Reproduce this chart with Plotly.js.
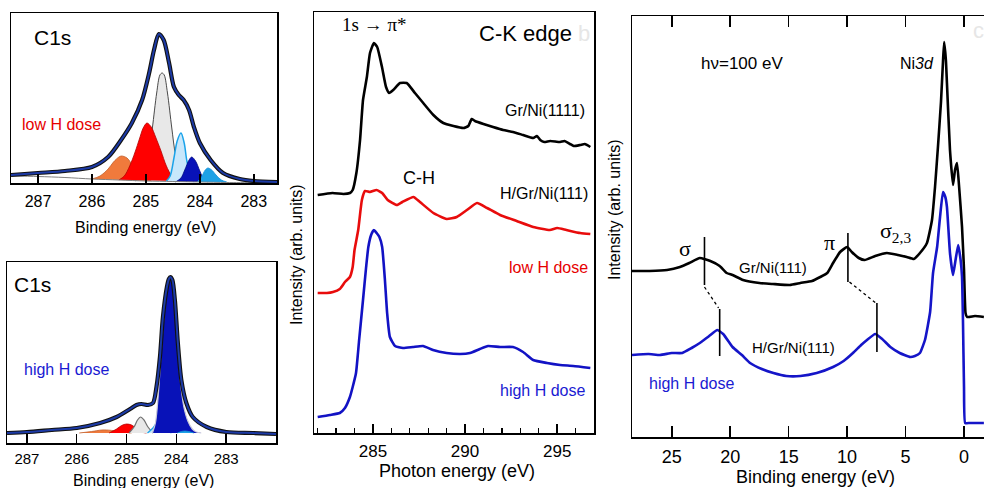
<!DOCTYPE html>
<html><head><meta charset="utf-8">
<script src="https://cdn.plot.ly/plotly-3.0.1.min.js"></script>
<style>html,body{margin:0;padding:0;background:#fff;}#chart{width:984px;height:488px;}</style>
</head><body><div id="chart"></div>
<script>
// ---------- Panel 1: C1s, low H dose (binding energy eV, intensity arb.) ----------
const p1TotalX = [287.5,287.0,286.5,286.0,285.7,285.46,285.26,285.07,284.94,284.85,284.76,284.67,284.57,284.48,284.39,284.3,284.2,284.11,284.0,283.8,283.57,283.26,283.0,282.57];
const p1TotalY = [8,10,12,16,26,43,60,83,110,133,149,143,120,96,88,83,73,56,40,23,10,4,2,1];
const p1BgX = [287.5,287.0,286.5,286.0,285.5,285.0,284.5,284.0,283.5,283.0,282.57];
const p1BgY = [7,6.5,5.5,4,3,2,1.5,1,0.5,0.3,0.2];
const p1GrayX = [285.2,285.05,284.95,284.88,284.8,284.74,284.7,284.66,284.6,284.52,284.45,284.35,284.2];
const p1GrayY = [2,10,28,55,90,108,110,108,90,55,28,10,1];
const p1OrangeX = [286.0,285.85,285.7,285.6,285.5,285.45,285.35,285.25,285.15,285.0,284.9];
const p1OrangeY = [4,7,14,21,26,27,25,18,11,5,2];
const p1RedX = [285.5,285.4,285.3,285.2,285.12,285.05,284.98,284.9,284.82,284.72,284.62,284.52,284.42];
const p1RedY = [3,7,17,31,44,55,60,56,46,32,17,7,2];
const p1LightBlueX = [284.62,284.55,284.48,284.42,284.35,284.29,284.24,284.17,284.1];
const p1LightBlueY = [2,7,25,42,50,40,22,8,1];
const p1DarkBlueX = [284.45,284.35,284.28,284.2,284.15,284.08,284.0,283.93,283.85];
const p1DarkBlueY = [1,5,13,23,26,22,12,4,1];
const p1SkyX = [284.05,283.97,283.9,283.85,283.78,283.7,283.6,283.5];
const p1SkyY = [1,6,13,15,13,8,3,1];
const p1Ticks = [287,286,285,284,283];

// ---------- Panel 2: C1s, high H dose ----------
const p2TotalX = [287.4,287.0,286.5,286.0,285.53,285.2,284.93,284.8,284.7,284.57,284.47,284.4,284.33,284.27,284.19,284.15,284.12,284.08,284.03,283.97,283.9,283.8,283.67,283.39,283.0,282.46,282.0];
const p2TotalY = [10,11,13,15,20,26,34,38,39,38,40,56,86,126,156,164,166,163,143,100,63,40,26,16,11,10,9];
const p2OrangeX = [285.95,285.7,285.5,285.4,285.2,285.0,284.9];
const p2OrangeY = [10,11.5,13,13,12,10.5,10];
const p2RedX = [285.35,285.2,285.1,285.0,284.9,284.8,284.7,284.6];
const p2RedY = [10,14,17.5,19,18,14.5,11,10];
const p2GrayX = [284.95,284.85,284.78,284.72,284.65,284.57,284.47];
const p2GrayY = [10,16,23,26,23,16,10];
const p2LightBlueX = [284.58,284.47,284.4,284.35,284.28,284.2,284.1];
const p2LightBlueY = [10,15,20,22,19,13,10];
const p2DarkBlueX = [284.48,284.42,284.36,284.3,284.24,284.19,284.15,284.12,284.08,284.04,283.98,283.92,283.85,283.77,283.68,283.6,283.5];
const p2DarkBlueY = [10,20,50,95,132,152,161,163,159,140,100,62,36,22,14,11,10];
const p2SkyX = [283.98,283.9,283.83,283.75,283.65];
const p2SkyY = [10,11.5,12,11.5,10];
const p2Ticks = [287,286,285,284,283];

// ---------- Panel 3: C-K edge NEXAFS (photon energy eV) ----------
const p3BlackX = [282.0,282.8,283.4,283.75,283.9,284.1,284.3,284.46,284.67,284.84,285.05,285.23,285.49,285.71,285.88,286.1,286.47,286.83,287.28,287.73,288.28,288.82,289.37,289.91,290.18,290.36,290.54,291.0,291.52,292.07,292.6,293.15,293.7,293.9,294.08,294.3,294.62,295.16,295.4,295.7,295.9,296.25,296.5,296.8];
const p3BlackY = [238,240,239,240,243,260,293,333,356,380,390,386,366,346,340,343,350,350,340,330,318,310,307,305,307,314,312,309,306,303,301,298,295,297,293,291,292,291,292,289,287,288,289,286];
const p3RedX = [282.0,282.5,282.83,283.2,283.48,283.75,283.9,284.0,284.2,284.4,284.57,284.84,285.2,285.5,285.8,286.3,286.6,287.2,287.55,288.28,289.0,289.55,290.1,290.65,291.2,291.9,292.8,293.7,294.6,295.0,295.5,296.25,296.8];
const p3RedY = [140,140,141,144,151,156,166,183,203,233,242,241,243,240,233,228,231,236,231,220,214,216,223,230,225,218,212,206,203,205,203,200,199];
const p3BlueX = [282.0,282.66,283.2,283.48,283.75,283.9,284.08,284.25,284.46,284.63,284.75,284.9,285.05,285.2,285.35,285.5,285.65,285.77,285.92,286.2,286.63,287.17,287.72,288.26,289.0,289.73,290.27,290.8,291.25,291.9,292.6,293.15,293.7,294.45,295.16,295.87,296.8];
const p3BlueY = [16,18,20,25,36,46,60,93,133,166,186,198,203,200,196,186,153,120,96,87,85,86,87,83,80,79,80,84,87,86,86,81,73,70,68,67,65];
const p3Ticks = [285,290,295];

// ---------- Panel 4: valence band, hv=100 eV (binding energy eV) ----------
const p4BlackX = [28.4,26.9,25.4,24.3,23.5,22.6,21.7,20.9,20.3,19.8,18.9,17.5,16.35,14.9,14.0,13.0,12.3,11.7,11.2,10.6,10.0,9.6,9.0,8.5,7.6,6.6,5.65,4.9,4.3,3.77,3.17,2.74,2.48,2.23,1.97,1.8,1.7,1.55,1.46,1.2,0.94,0.77,0.6,0.43,0.17,0.0,-0.13,-0.26,-0.94,-1.7];
const p4BlackY = [166,166,167,170,174,179,176,171,164,162,157,154,153,152,154,156,160,164,174,185,190,185,179,177,181,184,182,180,178,184,194,217,250,290,335,375,395,377,354,287,252,267,274,252,210,167,124,120,121,120];
const p4BlueX = [28.4,27,26,25,24.1,23.3,22.6,21.8,21.1,20.6,19.8,19.0,18.3,17.3,16.3,15.2,14,12.6,11.2,10.3,9.5,8.8,8.3,7.6,7.0,6.3,5.5,4.6,4.2,3.77,3.34,2.9,2.65,2.3,2.05,1.8,1.6,1.46,1.2,0.94,0.75,0.5,0.3,0.17,0.09,0.0,-0.1,-0.5,-1.7];
const p4BlueY = [82,83,82,84,84,89,94,101,107,103,90,82,74,68,64,61,61,64,70,76,84,92,97,103,98,90,84,80,81,84,97,125,164,190,220,245,240,230,184,162,175,192,178,160,117,50,14,14,14];
// peak markers: [x0, y0, x1, y1]
const p4SigmaBlack = [22.2,200,22.2,152];
const p4PiBlack = [9.93,204,9.93,155];
const p4SigmaBlue = [20.9,128,20.9,81];
const p4PiBlue = [7.45,134,7.45,85];
const p4SigmaShift = [22.2,150,21.0,129];
const p4PiShift = [9.8,155,7.55,134];
const p4Ticks = [25,20,15,10,5,0];

// ---------- layout helpers ----------
const W = 984, H = 488;
const fx = p => p / W;
const fy = p => 1 - p / H;
const SANS = 'Liberation Sans, Arial, sans-serif';
const SERIF = 'Liberation Serif, Times New Roman, serif';

function line(x, y, xa, ya, color, width, smooth) {
  return {x, y, xaxis: xa, yaxis: ya, mode: 'lines', hoverinfo: 'skip',
    line: {color, width, shape: 'spline', smoothing: smooth}};
}
function peak(x, y, xa, ya, fill, edge, w) {
  return {x, y, xaxis: xa, yaxis: ya, mode: 'lines', fill: 'toself', fillcolor: fill, hoverinfo: 'skip',
    line: {color: edge, width: w, shape: 'spline', smoothing: 0.9}};
}
function seg(s, xa, ya, dash) {
  return {x: [s[0], s[2]], y: [s[1], s[3]], xaxis: xa, yaxis: ya, mode: 'lines', hoverinfo: 'skip',
    line: {color: '#000', width: dash ? 1.3 : 1.6, dash: dash || 'solid'}};
}

const traces = [
  // panel 1
  peak(p1GrayX, p1GrayY, 'x', 'y', '#e8e8e8', '#4a4a4a', 1),
  peak(p1OrangeX, p1OrangeY, 'x', 'y', '#f07a3c', '#c0602c', 0.8),
  peak(p1RedX, p1RedY, 'x', 'y', '#ff0000', '#b40000', 0.8),
  peak(p1LightBlueX, p1LightBlueY, 'x', 'y', '#c8e7fb', '#1aa3ea', 1.5),
  peak(p1DarkBlueX, p1DarkBlueY, 'x', 'y', '#0812b8', '#000a80', 0.8),
  peak(p1SkyX, p1SkyY, 'x', 'y', '#1ea2e6', '#1590d8', 0.8),
  line(p1BgX, p1BgY, 'x', 'y', '#808080', 1, 0.8),
  line(p1TotalX, p1TotalY, 'x', 'y', '#111', 4.2, 0.8),
  line(p1TotalX, p1TotalY, 'x', 'y', '#1c3aa6', 2, 0.8),
  // panel 2
  peak(p2OrangeX, p2OrangeY, 'x2', 'y2', '#f07a3c', '#c0602c', 0.8),
  peak(p2RedX, p2RedY, 'x2', 'y2', '#ff0000', '#b40000', 0.8),
  peak(p2GrayX, p2GrayY, 'x2', 'y2', '#e8e8e8', '#707070', 1.2),
  peak(p2LightBlueX, p2LightBlueY, 'x2', 'y2', '#c8e7fb', '#1aa3ea', 1.2),
  peak(p2DarkBlueX, p2DarkBlueY, 'x2', 'y2', '#0812b8', '#c8c8d8', 1.2),
  peak(p2SkyX, p2SkyY, 'x2', 'y2', '#1ea2e6', '#1590d8', 0.8),
  line(p2TotalX, p2TotalY, 'x2', 'y2', '#111', 4.2, 0.8),
  line(p2TotalX, p2TotalY, 'x2', 'y2', '#1c3aa6', 2, 0.8),
  // panel 3
  line(p3BlackX, p3BlackY, 'x3', 'y3', '#000', 2.6, 0.45),
  line(p3RedX, p3RedY, 'x3', 'y3', '#e80c0c', 2.6, 0.45),
  line(p3BlueX, p3BlueY, 'x3', 'y3', '#1212c4', 2.6, 0.45),
  // panel 4
  line(p4BlackX, p4BlackY, 'x4', 'y4', '#000', 2.6, 0.4),
  line(p4BlueX, p4BlueY, 'x4', 'y4', '#1515c8', 2.6, 0.4),
  seg(p4SigmaBlack, 'x4', 'y4'),
  seg(p4PiBlack, 'x4', 'y4'),
  seg(p4SigmaBlue, 'x4', 'y4'),
  seg(p4PiBlue, 'x4', 'y4'),
  seg(p4SigmaShift, 'x4', 'y4', 'dot'),
  seg(p4PiShift, 'x4', 'y4', 'dot')
];

function xax(dom, range, ticks, size, ticklen, standoff, extra) {
  return Object.assign({domain: dom, range, tickvals: ticks, ticktext: ticks.map(String),
    ticks: 'inside', ticklen, tickwidth: 1.5, tickcolor: '#000', showline: true, linecolor: '#000', linewidth: 1.5,
    mirror: true, showgrid: false, zeroline: false, fixedrange: true, ticklabelstandoff: standoff,
    tickfont: {family: SANS, size, color: '#000'}}, extra || {});
}
function yax(dom, range, anchor, mirror) {
  return {domain: dom, range, anchor, showline: true, linecolor: '#000', linewidth: 1.5, mirror,
    ticks: '', showticklabels: false, showgrid: false, zeroline: false, fixedrange: true};
}

const layout = {
  width: W, height: H, margin: {l: 0, r: 0, t: 0, b: 0},
  paper_bgcolor: '#fff', plot_bgcolor: '#fff', showlegend: false,
  xaxis: xax([fx(11), fx(277)], [287.5, 282.57], p1Ticks, 16, 9, 3, {anchor: 'y'}),
  yaxis: yax([fy(183), fy(13)], [0, 170], 'x', true),
  xaxis2: xax([fx(7), fx(276)], [287.4, 282.0], p2Ticks, 15, 9, 1, {anchor: 'y2'}),
  yaxis2: yax([fy(443), fy(262)], [0, 181], 'x2', true),
  xaxis3: xax([fx(314), fx(594)], [281.8, 297.0], p3Ticks, 17, 9, 2,
    {anchor: 'y3', minor: {dtick: 1, tick0: 285, ticks: 'inside', ticklen: 5, tickwidth: 1.3, tickcolor: '#000', showgrid: false}}),
  yaxis3: yax([fy(433), fy(12)], [0, 421], 'x3', true),
  xaxis4: xax([fx(632), 1], [28.4, -1.71], p4Ticks, 18, 11, 3, {anchor: 'y4', mirror: 'allticks'}),
  yaxis4: yax([fy(437), fy(16)], [0, 421], 'x4', false),
  annotations: [
    // panel 1
    {xref: 'x', yref: 'y', x: 286.74, y: 146, text: 'C1s', font: {family: SANS, size: 21, color: '#000'}},
    {xref: 'x', yref: 'y', x: 286.57, y: 59, text: 'low H dose', font: {family: SANS, size: 16, color: '#e60000'}},
    {xref: 'paper', yref: 'paper', x: fx(145), y: fy(227), text: 'Binding energy (eV)', font: {family: SANS, size: 16, color: '#000'}},
    // panel 2
    {xref: 'x2', yref: 'y2', x: 286.88, y: 159, text: 'C1s', font: {family: SANS, size: 21, color: '#000'}},
    {xref: 'x2', yref: 'y2', x: 286.2, y: 74, text: 'high H dose', font: {family: SANS, size: 16, color: '#1a1ad2'}},
    {xref: 'paper', yref: 'paper', x: fx(143), y: fy(480), text: 'Binding energy (eV)', font: {family: SANS, size: 16, color: '#000'}},
    // panel 3
    {xref: 'x3', yref: 'y3', x: 285.1, y: 409, text: '1s \u2192 \u03c0*', font: {family: SERIF, size: 19, color: '#000'}},
    {xref: 'x3', yref: 'y3', x: 293.26, y: 400, text: 'C-K edge', font: {family: SANS, size: 22, color: '#000'}},
    {xref: 'x3', yref: 'y3', x: 296.45, y: 400, text: 'b', font: {family: SANS, size: 22, color: '#e6e6e6'}},
    {xref: 'x3', yref: 'y3', x: 296.6, y: 323, xanchor: 'right', text: 'Gr/Ni(1111)', font: {family: SANS, size: 16, color: '#000'}},
    {xref: 'x3', yref: 'y3', x: 287.5, y: 255, text: 'C-H', font: {family: SANS, size: 18, color: '#000'}},
    {xref: 'x3', yref: 'y3', x: 296.8, y: 240, xanchor: 'right', text: 'H/Gr/Ni(111)', font: {family: SANS, size: 16, color: '#000'}},
    {xref: 'x3', yref: 'y3', x: 296.8, y: 166, xanchor: 'right', text: 'low H dose', font: {family: SANS, size: 16, color: '#e60000'}},
    {xref: 'x3', yref: 'y3', x: 296.6, y: 43, xanchor: 'right', text: 'high H dose', font: {family: SANS, size: 16, color: '#1a1ad2'}},
    {xref: 'paper', yref: 'paper', x: fx(457), y: fy(471), text: 'Photon energy (eV)', font: {family: SANS, size: 18, color: '#000'}},
    {xref: 'paper', yref: 'paper', x: fx(296), y: fy(255), text: 'Intensity (arb. units)', textangle: -90, font: {family: SANS, size: 16, color: '#000'}},
    // panel 4
    {xref: 'x4', yref: 'y4', x: 19.0, y: 374, text: 'h\u03bd=100 eV', font: {family: SANS, size: 17, color: '#000'}},
    {xref: 'x4', yref: 'y4', x: 4.0, y: 374, text: 'Ni<i>3d</i>', font: {family: SANS, size: 16, color: '#000'}},
    {xref: 'x4', yref: 'y4', x: -1.2, y: 407, text: 'c', font: {family: SANS, size: 22, color: '#e6e6e6'}},
    {xref: 'x4', yref: 'y4', x: 23.9, y: 189, text: '\u03c3', font: {family: SERIF, size: 22, color: '#000'}},
    {xref: 'x4', yref: 'y4', x: 11.5, y: 195, text: '\u03c0', font: {family: SERIF, size: 22, color: '#000'}},
    {xref: 'x4', yref: 'y4', x: 5.9, y: 205, text: '\u03c3<sub>2,3</sub>', font: {family: SERIF, size: 22, color: '#000'}},
    {xref: 'x4', yref: 'y4', x: 16.35, y: 170, text: 'Gr/Ni(111)', font: {family: SANS, size: 15, color: '#000'}},
    {xref: 'x4', yref: 'y4', x: 14.6, y: 90, text: 'H/Gr/Ni(111)', font: {family: SANS, size: 15, color: '#000'}},
    {xref: 'x4', yref: 'y4', x: 23.3, y: 54, text: 'high H dose', font: {family: SANS, size: 16, color: '#1a1ad2'}},
    {xref: 'paper', yref: 'paper', x: fx(815), y: fy(477), text: 'Binding energy (eV)', font: {family: SANS, size: 18, color: '#000'}},
    {xref: 'paper', yref: 'paper', x: fx(614), y: fy(210), text: 'Intensity (arb. units)', textangle: -90, font: {family: SANS, size: 16, color: '#000'}}
  ].map(a => Object.assign({showarrow: false, xanchor: 'center', yanchor: 'middle'}, a))
};

Plotly.newPlot('chart', traces, layout, {staticPlot: true, displayModeBar: false});
</script>
</body></html>
